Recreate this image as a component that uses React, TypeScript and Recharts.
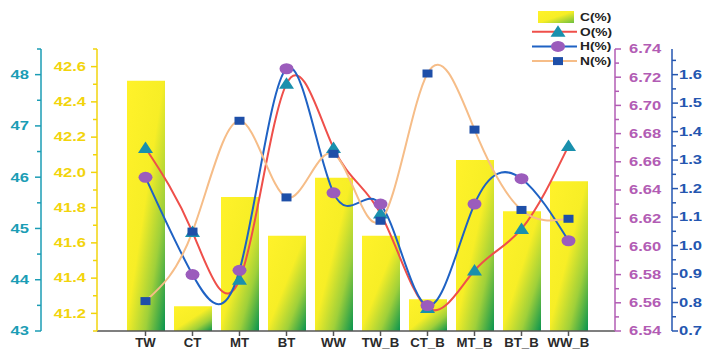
import React from 'react';
import { ComposedChart, Bar, Line, XAxis, YAxis, Legend } from 'recharts';

const categories = ['TW', 'CT', 'MT', 'BT', 'WW', 'TW_B', 'CT_B', 'MT_B', 'BT_B', 'WW_B'];
const carbon = [42.52, 41.24, 41.86, 41.64, 41.97, 41.64, 41.28, 42.07, 41.78, 41.95];
const oxygen = [46.57, 44.93, 44.0, 47.82, 46.57, 45.29, 43.45, 44.18, 44.99, 46.61];
const hydrogen = [6.649, 6.58, 6.583, 6.726, 6.638, 6.63, 6.558, 6.63, 6.648, 6.604];
const nitrogen = [0.805, 1.049, 1.438, 1.169, 1.322, 1.087, 1.604, 1.407, 1.125, 1.094];

const oTicks = [43, 43.5, 44, 44.5, 45, 45.5, 46, 46.5, 47, 47.5, 48, 48.5];
const oMajor = [43, 44, 45, 46, 47, 48];
const cTicks = [41.1, 41.2, 41.3, 41.4, 41.5, 41.6, 41.7, 41.8, 41.9, 42.0, 42.1, 42.2, 42.3, 42.4, 42.5, 42.6, 42.7];
const cMajor = [41.2, 41.4, 41.6, 41.8, 42.0, 42.2, 42.4, 42.6];
const hTicks = [6.54, 6.55, 6.56, 6.57, 6.58, 6.59, 6.6, 6.61, 6.62, 6.63, 6.64, 6.65, 6.66, 6.67, 6.68, 6.69, 6.7, 6.71, 6.72, 6.73, 6.74];
const hMajor = [6.54, 6.56, 6.58, 6.6, 6.62, 6.64, 6.66, 6.68, 6.7, 6.72, 6.74];
const nTicks = [0.7, 0.75, 0.8, 0.85, 0.9, 0.95, 1.0, 1.05, 1.1, 1.15, 1.2, 1.25, 1.3, 1.35, 1.4, 1.45, 1.5, 1.55, 1.6, 1.65];
const nMajor = [0.7, 0.8, 0.9, 1.0, 1.1, 1.2, 1.3, 1.4, 1.5, 1.6];

const data = categories.map((name, i) => ({
  name,
  C: carbon[i],
  O: oxygen[i],
  H: hydrogen[i],
  N: nitrogen[i],
}));

const FONT = '"Liberation Sans", Arial, sans-serif';
const TEAL = '#1b9db5';
const GOLD = '#f2d40c';
const PURPLE = '#b25cb4';
const BLUE = '#2456b0';
const RED = '#ef4f4a';
const LINE_BLUE = '#1f62c4';
const PEACH = '#f6bd88';
const TRI_FILL = '#1990ad';
const CIRC_FILL = '#9b5cbc';
const SQ_FILL = '#1e4fa8';

const inList = (list: number[], v: number) => list.some((m) => Math.abs(m - v) < 1e-6);

const makeTick = (
  color: string,
  side: 'left' | 'right',
  offset: number,
  major: number[],
  fmt: (v: number) => string,
) => (props: any) => {
  const { x, y, payload } = props;
  const v = Number(payload.value);
  const axisX = side === 'left' ? x + offset : x - offset;
  const dir = side === 'left' ? -1 : 1;
  const isMaj = inList(major, v);
  const len = isMaj ? 6 : 4;
  return (
    <g>
      <line x1={axisX} x2={axisX + dir * len} y1={y} y2={y} stroke={color} strokeWidth={1.5} />
      {isMaj && (
        <text
          transform={`translate(${x},${y}) scale(1.38,1)`}
          textAnchor={side === 'left' ? 'end' : 'start'}
          dy="0.36em"
          fill={color}
          fontSize={12}
          fontWeight="bold"
          fontFamily={FONT}
        >
          {fmt(v)}
        </text>
      )}
    </g>
  );
};

const XTick = (props: any) => {
  const { x, y, payload } = props;
  return (
    <text
      transform={`translate(${x},${y}) scale(1.1,1)`}
      textAnchor="middle"
      dy="0.71em"
      fill="#2a2a2a"
      fontSize={12}
      fontWeight="bold"
      fontFamily={FONT}
    >
      {payload.value}
    </text>
  );
};

const Triangle = (props: any) => {
  const { cx, cy } = props;
  if (cx == null || cy == null) return null;
  return <path d={`M${cx},${cy - 6.5} L${cx + 7.5},${cy + 5} L${cx - 7.5},${cy + 5} Z`} fill={TRI_FILL} />;
};
const Circle = (props: any) => {
  const { cx, cy } = props;
  if (cx == null || cy == null) return null;
  return <ellipse cx={cx} cy={cy} rx={7} ry={5.5} fill={CIRC_FILL} />;
};
const Square = (props: any) => {
  const { cx, cy } = props;
  if (cx == null || cy == null) return null;
  return <rect x={cx - 5} y={cy - 4} width={10} height={8} fill={SQ_FILL} />;
};

const legendRows = [
  { label: 'C(%)', kind: 'bar' },
  { label: 'O(%)', kind: 'O' },
  { label: 'H(%)', kind: 'H' },
  { label: 'N(%)', kind: 'N' },
];

const LegendContent = () => (
  <svg width={110} height={70}>
    <defs>
      <linearGradient id="legGrad" x1="0" y1="0" x2="1" y2="1">
        <stop offset="0" stopColor="#fff22a" />
        <stop offset="0.5" stopColor="#f7ee26" />
        <stop offset="1" stopColor="#6cc040" />
      </linearGradient>
    </defs>
    {legendRows.map((r, i) => {
      const cy = 17 + i * 14.7;
      let sym: React.ReactNode = null;
      if (r.kind === 'bar') {
        sym = <rect x={8} y={cy - 6} width={36} height={12} fill="url(#legGrad)" />;
      } else {
        const lineColor = r.kind === 'O' ? RED : r.kind === 'H' ? LINE_BLUE : PEACH;
        const Marker = r.kind === 'O' ? Triangle : r.kind === 'H' ? Circle : Square;
        sym = (
          <g>
            <line x1={2} x2={47} y1={cy} y2={cy} stroke={lineColor} strokeWidth={2} />
            <Marker cx={28} cy={cy} />
          </g>
        );
      }
      return (
        <g key={r.label}>
          {sym}
          <text
            transform={`translate(50,${cy}) scale(1.25,1)`}
            dy="0.36em"
            fontSize={11}
            fontWeight="bold"
            fill="#222"
            fontFamily={FONT}
          >
            {r.label}
          </text>
        </g>
      );
    })}
  </svg>
);

export default function App() {
  return (
    <div style={{ position: 'absolute', left: 0, top: 0, background: '#fff' }}>
      <ComposedChart
        width={711}
        height={352}
        data={data}
        margin={{ top: 49, right: 2, bottom: 0, left: 4 }}
      >
        <defs>
          <linearGradient id="barGrad" x1="0" y1="0" x2="1" y2="1">
            <stop offset="0" stopColor="#fff22a" />
            <stop offset="0.48" stopColor="#f7ee26" />
            <stop offset="0.74" stopColor="#9fd03a" />
            <stop offset="1" stopColor="#07934f" />
          </linearGradient>
        </defs>
        <XAxis
          dataKey="name"
          padding={{ left: 25, right: 23 }}
          height={21}
          tickSize={5}
          tickMargin={2}
          axisLine={{ stroke: '#555', strokeWidth: 1.5 }}
          tickLine={{ stroke: '#555', strokeWidth: 1.5 }}
          tick={<XTick />}
          interval={0}
        />
        <YAxis
          yAxisId="C"
          orientation="left"
          width={56}
          domain={[41.1, 42.7]}
          ticks={cTicks}
          interval={0}
          tickSize={6}
          tickMargin={5}
          tickLine={false}
          axisLine={{ stroke: GOLD, strokeWidth: 1.5 }}
          tick={makeTick(GOLD, 'left', 11, cMajor, (v) => v.toFixed(1))}
          allowDataOverflow
        />
        <YAxis
          yAxisId="O"
          orientation="left"
          width={37}
          domain={[43, 48.5]}
          ticks={oTicks}
          interval={0}
          tickSize={6}
          tickMargin={6}
          tickLine={false}
          axisLine={{ stroke: TEAL, strokeWidth: 1.5 }}
          tick={makeTick(TEAL, 'left', 12, oMajor, (v) => String(v))}
          allowDataOverflow
        />
        <YAxis
          yAxisId="H"
          orientation="right"
          width={57}
          domain={[6.54, 6.74]}
          ticks={hTicks}
          interval={0}
          tickSize={6}
          tickMargin={8}
          tickLine={false}
          axisLine={{ stroke: PURPLE, strokeWidth: 1.5 }}
          tick={makeTick(PURPLE, 'right', 14, hMajor, (v) => v.toFixed(2))}
          allowDataOverflow
        />
        <YAxis
          yAxisId="N"
          orientation="right"
          width={37}
          domain={[0.7, 1.69]}
          ticks={nTicks}
          interval={0}
          tickSize={6}
          tickMargin={1}
          tickLine={false}
          axisLine={{ stroke: BLUE, strokeWidth: 1.5 }}
          tick={makeTick(BLUE, 'right', 7, nMajor, (v) => v.toFixed(1))}
          allowDataOverflow
        />
        <Bar yAxisId="C" dataKey="C" fill="url(#barGrad)" barSize={38} isAnimationActive={false} />
        <Line
          yAxisId="O"
          dataKey="O"
          type="natural"
          stroke={RED}
          strokeWidth={2}
          dot={<Triangle />}
          activeDot={false}
          isAnimationActive={false}
        />
        <Line
          yAxisId="H"
          dataKey="H"
          type="natural"
          stroke={LINE_BLUE}
          strokeWidth={2}
          dot={<Circle />}
          activeDot={false}
          isAnimationActive={false}
        />
        <Line
          yAxisId="N"
          dataKey="N"
          type="natural"
          stroke={PEACH}
          strokeWidth={2}
          dot={<Square />}
          activeDot={false}
          isAnimationActive={false}
        />
        <Legend
          verticalAlign="middle"
          content={<LegendContent />}
          wrapperStyle={{ top: 0, left: 530, width: 110, height: 70 }}
        />
      </ComposedChart>
    </div>
  );
}
